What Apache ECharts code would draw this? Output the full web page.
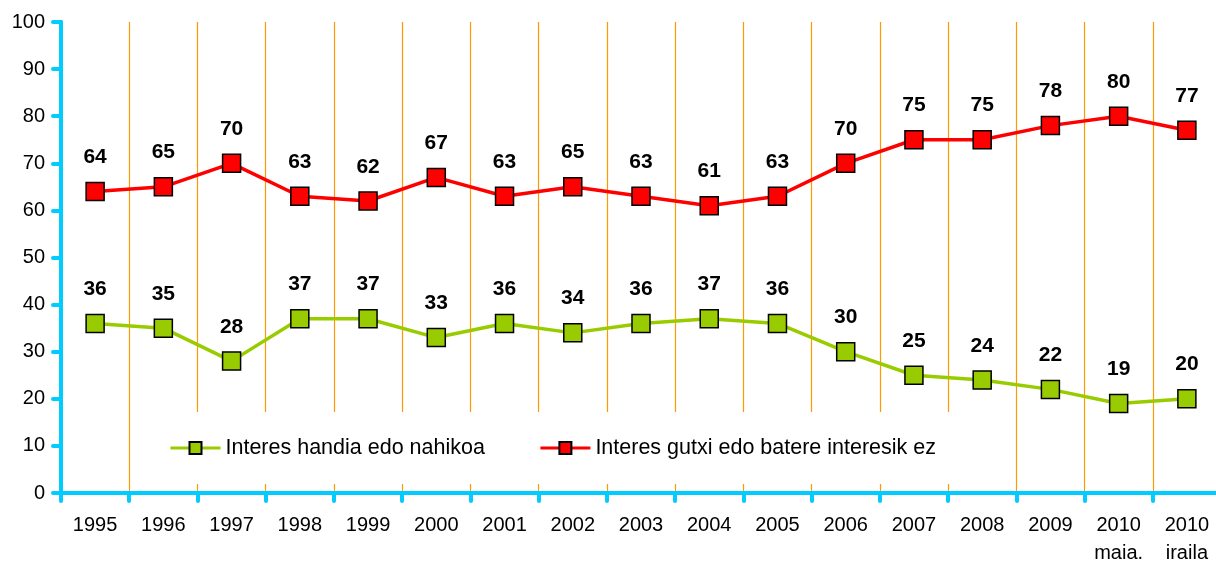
<!DOCTYPE html>
<html lang="eu">
<head>
    <meta charset="UTF-8">
    <title>Interesa</title>
</head>
<body style="margin:0">
<div id='main' style="height: 562px;width: 1216px"></div>
</body>
<script src="https://cdn.jsdelivr.net/npm/echarts@6.0.0/dist/echarts.min.js"></script>
<script>
    var years = ['1995', '1996', '1997', '1998', '1999', '2000', '2001', '2002', '2003',
        '2004', '2005', '2006', '2007', '2008', '2009', '2010\nmaia.', '2010\niraila'];
    var handia = [36, 35, 28, 37, 37, 33, 36, 34, 36, 37, 36, 30, 25, 24, 22, 19, 20];
    var gutxi = [64, 65, 70, 63, 62, 67, 63, 65, 63, 61, 63, 70, 75, 75, 78, 80, 77];
    var yTicks = [0, 100, 10]; // min, max, interval

    var font = 'Liberation Sans, Arial, sans-serif';
    var axisColor = '#00ccff';

    function lineSeries(name, data, color) {
        return {
            name: name,
            type: 'line',
            data: data,
            symbol: 'rect',
            symbolSize: 18,
            lineStyle: {color: color, width: 3.5},
            itemStyle: {color: color, borderColor: '#000', borderWidth: 1.5},
            label: {
                show: true,
                position: 'top',
                distance: 14,
                color: '#000',
                fontFamily: font,
                fontWeight: 'bold',
                fontSize: 21
            },
            z: 5
        };
    }

    var myChart = echarts.init(document.getElementById('main'));

    var option = {
        animation: false,
        backgroundColor: '#fff',
        grid: {left: 61, top: 22, bottom: 69, right: -5, outerBoundsMode: 'none'},
        legend: {
            left: 160,
            top: 412,
            padding: [25, 26, 25, 9],
            backgroundColor: '#fff',
            itemGap: 54,
            itemWidth: 50,
            itemHeight: 15,
            lineStyle: {width: 3},
            textStyle: {fontFamily: font, fontSize: 21.5, color: '#000'},
            data: ['Interes handia edo nahikoa', 'Interes gutxi edo batere interesik ez']
        },
        xAxis: {
            type: 'category',
            data: years,
            boundaryGap: true,
            axisLine: {lineStyle: {color: axisColor, width: 4}},
            axisTick: {show: true, interval: 0, length: 8, lineStyle: {color: axisColor, width: 4, cap: 'round'}},
            axisLabel: {
                interval: 0,
                margin: 18,
                color: '#000',
                fontFamily: font,
                fontSize: 20,
                lineHeight: 28
            },
            splitLine: {show: true, interval: 0, lineStyle: {color: '#ff9900', width: 1.2}}
        },
        yAxis: {
            type: 'value',
            min: yTicks[0],
            max: yTicks[1],
            interval: yTicks[2],
            axisLine: {show: true, lineStyle: {color: axisColor, width: 4}},
            axisTick: {show: true, length: 8, lineStyle: {color: axisColor, width: 4, cap: 'round'}},
            axisLabel: {margin: 16, color: '#000', fontFamily: font, fontSize: 20},
            splitLine: {show: false}
        },
        series: [
            lineSeries('Interes handia edo nahikoa', handia, '#99cc00'),
            lineSeries('Interes gutxi edo batere interesik ez', gutxi, '#ff0000')
        ]
    };
    myChart.setOption(option);
</script>
</html>
